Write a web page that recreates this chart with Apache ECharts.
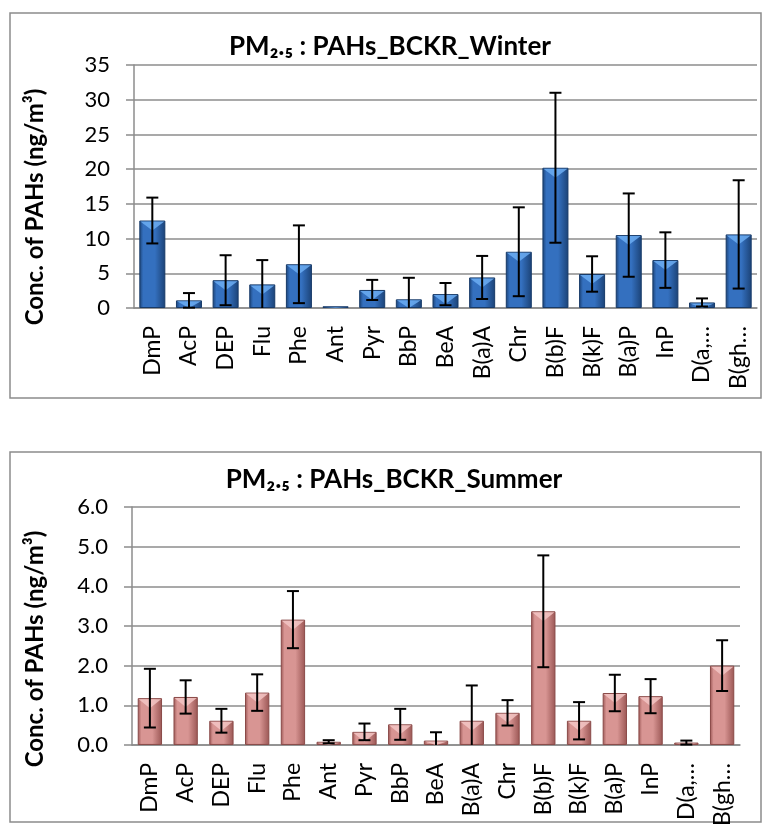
<!DOCTYPE html>
<html>
<head>
<meta charset="utf-8">
<title>PM2.5 PAHs BCKR</title>
<script src="https://cdn.jsdelivr.net/npm/echarts@6/dist/echarts.min.js"></script>
<style>
  html, body { margin: 0; padding: 0; background: #fff; }
  #chart { width: 763px; height: 829px; }
</style>
</head>
<body>
<div id="chart"></div>
<script>
const categories = ['DmP', 'AcP', 'DEP', 'Flu', 'Phe', 'Ant', 'Pyr', 'BbP', 'BeA',
  'B(a)A', 'Chr', 'B(b)F', 'B(k)F', 'B(a)P', 'InP', 'D(a,…', 'B(gh…'];

// winter: mean and standard deviation (ng/m3)
const winterMean = [12.6, 1.1, 4.0, 3.4, 6.3, 0.25, 2.6, 1.25, 2.0, 4.4, 8.1, 20.2, 4.9, 10.5, 6.9, 0.8, 10.6];
const winterSd = [3.3, 1.05, 3.6, 3.5, 5.6, 0, 1.45, 3.1, 1.6, 3.1, 6.4, 10.8, 2.55, 6.0, 4.0, 0.58, 7.8];

// summer
const summerMean = [1.18, 1.21, 0.61, 1.32, 3.16, 0.08, 0.33, 0.52, 0.11, 0.61, 0.81, 3.37, 0.61, 1.31, 1.23, 0.06, 2.0];
const summerSd = [0.74, 0.42, 0.3, 0.46, 0.72, 0.04, 0.21, 0.39, 0.21, 0.89, 0.32, 1.41, 0.47, 0.46, 0.43, 0.05, 0.64];

const winterTicks = [0, 5, 10, 15, 20, 25, 30, 35];
const summerTicks = ['0.0', '1.0', '2.0', '3.0', '4.0', '5.0', '6.0'];

const FONT = 'Lato, "Liberation Sans", sans-serif';
const GREY = '#8c8c8c';

const chart = echarts.init(document.getElementById('chart'));

function barGradient(edge, mid) {
  return new echarts.graphic.LinearGradient(0, 0, 1, 0, [
    { offset: 0, color: edge },
    { offset: 0.15, color: mid },
    { offset: 0.6, color: mid },
    { offset: 1, color: edge }
  ]);
}

// light triangle on top of each bar (excel bevel look)
function bevel(light, ratio) {
  return function (params, api) {
    const v = api.value(1);
    if (v <= 0) return null;
    const top = api.coord([api.value(0), v]);
    const base = api.coord([api.value(0), 0]);
    const w = api.size([1, 0])[0] * ratio;
    const depth = Math.min(10, base[1] - top[1]);
    const x0 = top[0] - w / 2 + 1, x1 = top[0] + w / 2 - 1;
    return {
      type: 'polygon',
      shape: { points: [[x0, top[1] + 1], [x1, top[1] + 1], [top[0], top[1] + depth]] },
      style: { fill: light, opacity: 0.85 }
    };
  };
}

function errorBars(params, api) {
  const i = api.value(0);
  const lo = api.value(1), hi = api.value(2);
  if (hi - lo <= 0) return null;
  const pTop = api.coord([i, hi]);
  const pBot = api.coord([i, Math.max(lo, 0)]);
  const half = 6;
  const style = { stroke: '#000', lineWidth: 2 };
  const children = [
    { type: 'line', shape: { x1: pTop[0], y1: pTop[1], x2: pBot[0], y2: pBot[1] }, style: style },
    { type: 'line', shape: { x1: pTop[0] - half, y1: pTop[1], x2: pTop[0] + half, y2: pTop[1] }, style: style }
  ];
  if (lo >= 0) {
    children.push({ type: 'line', shape: { x1: pBot[0] - half, y1: pBot[1], x2: pBot[0] + half, y2: pBot[1] }, style: style });
  }
  return { type: 'group', children: children };
}

function xAxisFor(gridIndex) {
  return {
    type: 'category', gridIndex: gridIndex, data: categories,
    axisLine: { lineStyle: { color: GREY, width: 1.5 } },
    axisTick: { interval: 0, length: 8, lineStyle: { color: GREY, width: 1.5 } },
    axisLabel: { interval: 0, rotate: 90, margin: 18, color: '#000', fontFamily: FONT, fontSize: 23 }
  };
}

function yAxisFor(gridIndex, ticks, labelMargin) {
  const vals = ticks.map(Number);
  return {
    type: 'value', gridIndex: gridIndex,
    min: vals[0], max: vals[vals.length - 1], interval: vals[1] - vals[0],
    axisLine: { show: true, lineStyle: { color: GREY, width: 1.5 } },
    axisTick: { show: true, length: 8, lineStyle: { color: GREY, width: 1.5 } },
    splitLine: { lineStyle: { color: GREY, width: 1.5 } },
    axisLabel: {
      margin: labelMargin, color: '#000', fontFamily: FONT, fontSize: 22,
      formatter: function (v) { return ticks[vals.indexOf(v)]; }
    }
  };
}

const axisTitleStyle = { text: 'Conc. of PAHs (ng/m³)', font: 'bold 24px ' + FONT, fill: '#000', align: 'center', verticalAlign: 'middle' };

chart.setOption({
  animation: false,
  title: [
    { text: 'PM₂.₅ : PAHs_BCKR_Winter', left: 385, top: 29, textAlign: 'center',
      textStyle: { fontFamily: FONT, fontWeight: 'bold', fontSize: 26, color: '#000' } },
    { text: 'PM₂.₅ : PAHs_BCKR_Summer', left: 389, top: 462, textAlign: 'center',
      textStyle: { fontFamily: FONT, fontWeight: 'bold', fontSize: 26, color: '#000' } }
  ],
  graphic: [
    { type: 'rect', shape: { x: 10, y: 13, width: 751, height: 385 }, style: { fill: 'none', stroke: GREY, lineWidth: 1.5 }, z: -1 },
    { type: 'rect', shape: { x: 10, y: 452, width: 751, height: 370 }, style: { fill: 'none', stroke: GREY, lineWidth: 1.5 }, z: -1 },
    { type: 'text', x: 35, y: 207, rotation: Math.PI / 2, style: axisTitleStyle },
    { type: 'text', x: 35, y: 649, rotation: Math.PI / 2, style: axisTitleStyle }
  ],
  grid: [
    { left: 134, top: 65, width: 623, height: 243 },
    { left: 132, top: 507, width: 608, height: 240 }
  ],
  xAxis: [xAxisFor(0), xAxisFor(1)],
  yAxis: [yAxisFor(0, winterTicks, 24), yAxisFor(1, summerTicks, 24)],
  series: [
    {
      type: 'bar', xAxisIndex: 0, yAxisIndex: 0, barWidth: '71%',
      data: winterMean,
      itemStyle: { color: barGradient('#1b4276', '#3470bf'), borderColor: '#173a68', borderWidth: 1 }
    },
    {
      type: 'custom', xAxisIndex: 0, yAxisIndex: 0, z: 3,
      renderItem: bevel('#6cadf2', 0.71),
      data: winterMean.map(function (v, i) { return [i, v]; })
    },
    {
      type: 'custom', xAxisIndex: 0, yAxisIndex: 0, z: 4,
      renderItem: errorBars,
      data: winterMean.map(function (v, i) { return [i, v - winterSd[i], v + winterSd[i]]; })
    },
    {
      type: 'bar', xAxisIndex: 1, yAxisIndex: 1, barWidth: '68%',
      data: summerMean,
      itemStyle: { color: barGradient('#9a5654', '#d89593'), borderColor: '#8a4a48', borderWidth: 1 }
    },
    {
      type: 'custom', xAxisIndex: 1, yAxisIndex: 1, z: 3,
      renderItem: bevel('#f3c6c4', 0.68),
      data: summerMean.map(function (v, i) { return [i, v]; })
    },
    {
      type: 'custom', xAxisIndex: 1, yAxisIndex: 1, z: 4,
      renderItem: errorBars,
      data: summerMean.map(function (v, i) { return [i, v - summerSd[i], v + summerSd[i]]; })
    }
  ]
});
</script>
</body>
</html>
